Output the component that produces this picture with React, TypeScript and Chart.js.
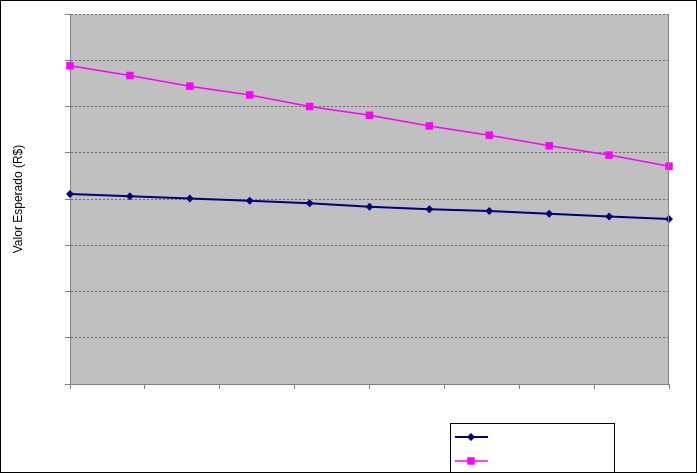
import React, { useEffect, useRef } from "react";
import { Chart, registerables } from "chart.js";

Chart.register(...registerables);

// ---- data ----
const xValues = [0, 1, 2, 3, 4, 5, 6, 7, 8, 9, 10];
const seriesNames = ["Série 1", "Série 2"];
const series1 = [4.11, 4.06, 4.01, 3.96, 3.91, 3.83, 3.78, 3.74, 3.68, 3.62, 3.57];
const series2 = [6.88, 6.67, 6.44, 6.25, 6.0, 5.81, 5.58, 5.38, 5.15, 4.95, 4.71];
const yAxisTitle = "Valor Esperado (R$)";
const yMin = 0;
const yMax = 8;
const yStep = 1;
const xMin = 0;
const xMax = 10;
const xStep = 1.25;

const FONT = '"Liberation Sans", Arial, Helvetica, sans-serif';

const backgroundPlugin = {
  id: "plotBackground",
  beforeDraw(chart: any) {
    const { ctx, chartArea } = chart;
    ctx.save();
    ctx.fillStyle = "#ffffff";
    ctx.fillRect(0, 0, chart.width, chart.height);
    ctx.fillStyle = "#c0c0c0";
    ctx.fillRect(chartArea.left, chartArea.top, chartArea.right - chartArea.left, chartArea.bottom - chartArea.top);
    ctx.restore();
  },
};

const framePlugin = {
  id: "frameAndLegend",
  afterDraw(chart: any) {
    const { ctx, chartArea } = chart;
    ctx.save();
    // right edge of plot area
    ctx.strokeStyle = "#808080";
    ctx.lineWidth = 1;
    ctx.beginPath();
    ctx.moveTo(Math.round(chartArea.right) - 0.5, chartArea.top);
    ctx.lineTo(Math.round(chartArea.right) - 0.5, chartArea.bottom);
    ctx.stroke();

    // legend box
    ctx.strokeStyle = "#000000";
    ctx.lineWidth = 1;
    ctx.strokeRect(450.5, 423.5, 164, 60);
    const rows = [437, 461];
    chart.data.datasets.forEach((ds: any, i: number) => {
      const y = rows[i];
      ctx.strokeStyle = ds.borderColor;
      ctx.lineWidth = ds.borderWidth;
      ctx.beginPath();
      ctx.moveTo(455, y);
      ctx.lineTo(488, y);
      ctx.stroke();
      ctx.fillStyle = ds.pointBackgroundColor;
      const cx = 471;
      ctx.beginPath();
      if (ds.pointStyle === "rectRot") {
        const r = ds.pointRadius;
        ctx.moveTo(cx - r, y);
        ctx.lineTo(cx, y - r);
        ctx.lineTo(cx + r, y);
        ctx.lineTo(cx, y + r);
        ctx.closePath();
      } else {
        const s = ds.pointRadius * Math.SQRT1_2;
        ctx.rect(cx - s, y - s, 2 * s, 2 * s);
      }
      ctx.fill();
    });

    // outer border
    ctx.strokeStyle = "#000000";
    ctx.lineWidth = 1;
    ctx.strokeRect(0.5, 0.5, chart.width - 1, chart.height - 1);
    ctx.restore();
  },
};

export default function App() {
  const canvasRef = useRef<HTMLCanvasElement | null>(null);

  useEffect(() => {
    document.body.style.margin = "0";
    const canvas = canvasRef.current;
    if (!canvas) return;
    const chart = new Chart(canvas, {
      type: "line",
      data: {
        datasets: [
          {
            label: seriesNames[0],
            data: xValues.map((x, i) => ({ x, y: series1[i] })),
            borderColor: "#000080",
            backgroundColor: "#000080",
            pointBackgroundColor: "#000080",
            pointBorderColor: "#000080",
            borderWidth: 2,
            pointStyle: "rectRot",
            pointRadius: 4,
            pointBorderWidth: 0,
            tension: 0,
            clip: false,
          } as any,
          {
            label: seriesNames[1],
            data: xValues.map((x, i) => ({ x, y: series2[i] })),
            borderColor: "#ff00ff",
            backgroundColor: "#ff00ff",
            pointBackgroundColor: "#ff00ff",
            pointBorderColor: "#ff00ff",
            borderWidth: 1.5,
            pointStyle: "rect",
            pointRadius: 5.3,
            pointBorderWidth: 0,
            tension: 0,
            clip: false,
          } as any,
        ],
      },
      options: {
        animation: false,
        responsive: true,
        maintainAspectRatio: false,
        layout: { padding: { left: 4, right: 28, top: 14, bottom: 84 } },
        plugins: {
          legend: { display: false },
          tooltip: { enabled: false },
        },
        scales: {
          x: {
            type: "linear",
            min: xMin,
            max: xMax,
            ticks: { display: false, stepSize: xStep },
            grid: {
              drawOnChartArea: false,
              drawTicks: true,
              tickLength: 5,
              color: "#808080",
              tickColor: "#808080",
            },
            border: { display: true, color: "#808080", width: 1 },
          },
          y: {
            type: "linear",
            min: yMin,
            max: yMax,
            ticks: { display: false, stepSize: yStep },
            grid: {
              drawOnChartArea: true,
              drawTicks: true,
              tickLength: 5,
              color: "#6a6a6a",
              tickColor: "#808080",
              tickBorderDash: [],
              lineWidth: 1,
            } as any,
            border: { display: true, color: "#808080", width: 1, dash: [2, 2] },
            title: {
              display: true,
              text: yAxisTitle,
              color: "#000000",
              font: { family: FONT, size: 12 },
              padding: { top: 7.8, bottom: 38.8 },
            },
          },
        },
      },
      plugins: [backgroundPlugin, framePlugin],
    });
    return () => chart.destroy();
  }, []);

  return (
    <div style={{ position: "absolute", left: 0, top: 0, width: 697, height: 473 }}>
      <canvas ref={canvasRef} />
    </div>
  );
}
